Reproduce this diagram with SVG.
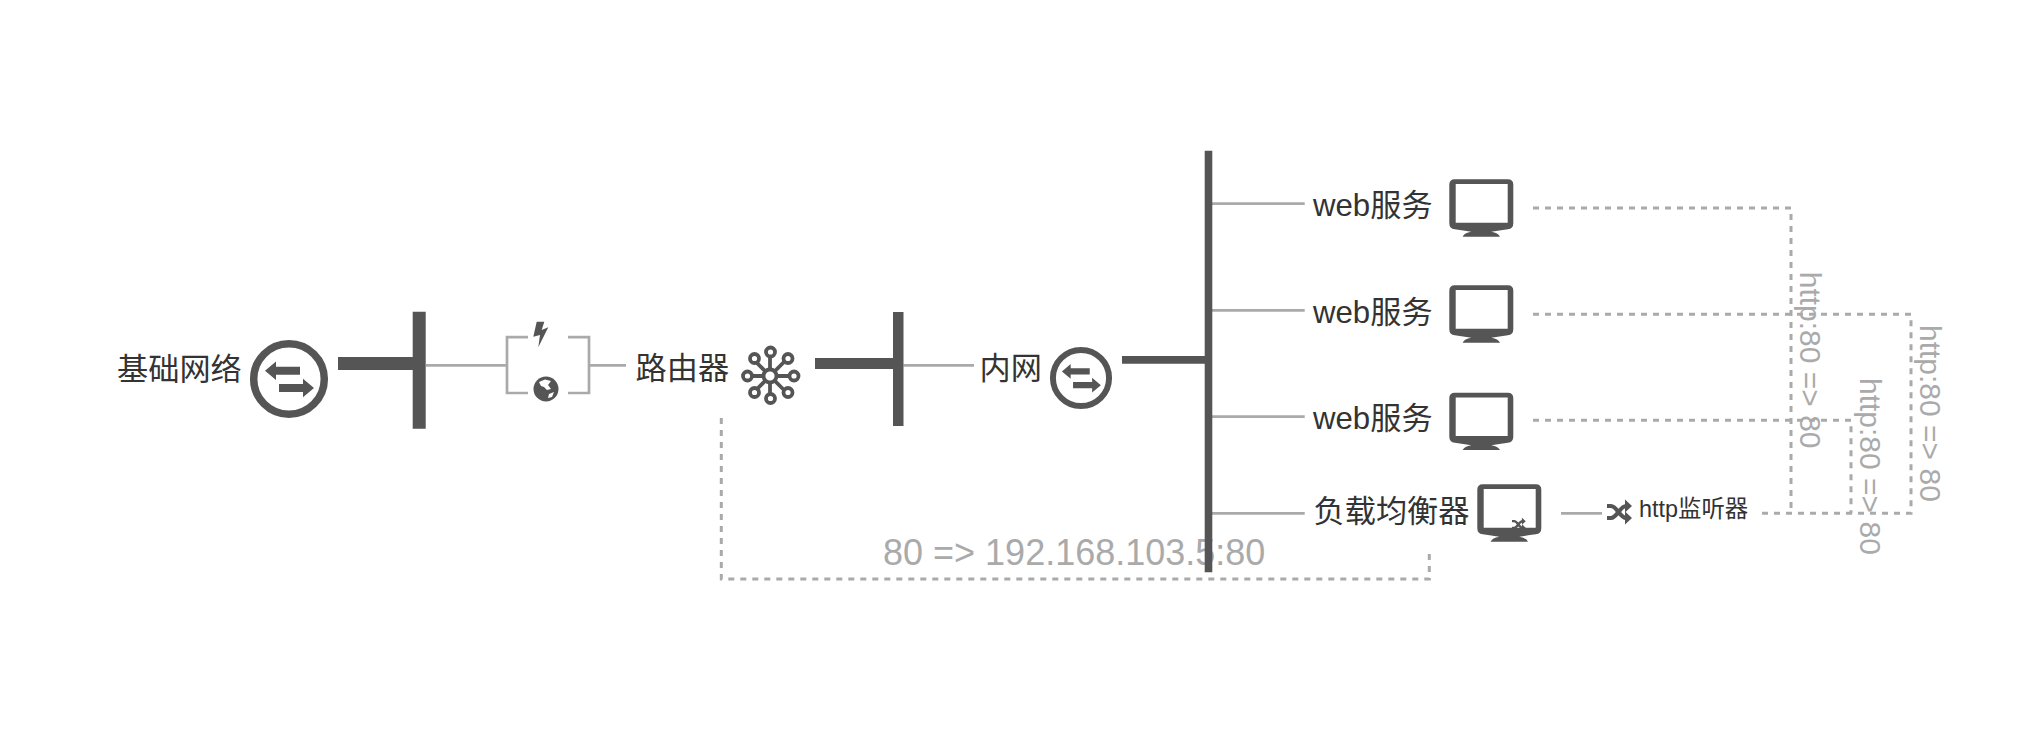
<svg xmlns="http://www.w3.org/2000/svg" xmlns:xlink="http://www.w3.org/1999/xlink" width="2034" height="754" viewBox="0 0 2034 754">
<style>
text{font-family:"Liberation Sans","Noto Sans CJK SC",sans-serif}
.lb{font-size:31.200px;fill:#333}
.gt{font-size:30px;fill:#aaa}
.ln{fill:none;stroke:#aaa;stroke-width:2.700}
.ds{fill:none;stroke:#aaa;stroke-width:3;stroke-dasharray:6 6}
.bar{fill:#555}
</style>
<defs>
<g id="exchange">
<circle r="35.300" fill="none" stroke="#555" stroke-width="7.500"/>
<path fill="#555" d="M-24-8.300-13-17.500V-12.300H11V-4.300H-13V.900Z"/>
<path fill="#555" d="M25 9 14 -.200V5H-10V13H14V18.200Z"/>
</g>
<path id="monitor" fill="#555" fill-rule="evenodd" d="M5.500 0H58.500Q64 0 64 5.500V44Q64 49.500 58.500 50Q50 51 42 52.500Q49 53.500 50.700 57.400H13.300Q15 53.500 22 52.500Q14 51 5.500 50Q0 49.500 0 44V5.500Q0 0 5.500 0ZM6.400 4.700V43.400H58.400V4.700Z"/>
<g id="shuffle" fill="none" stroke="#555" stroke-width="4.200">
<path d="M0 4H4C10 4 13 16 19 16H21"/>
<path d="M0 16H4C10 16 13 4 19 4H21"/>
<path stroke="none" fill="#555" d="M18-2.500 25 4 18 10.500ZM18 9.500 25 16 18 22.500Z"/>
</g>
</defs>
<rect width="2034" height="754" fill="#fff"/>

<g id="connectors">
<path class="ln" d="M426 365.300H507M589 365.300H626M903.500 365.300H974M1212 203.700H1304.700M1212 310.300H1304.700M1212 416.700H1304.700M1212 513.300H1304.700M1561 513.300H1602"/>
<path class="ln" d="M528 337.200H507V393H528M568 337.200H589V393H568"/>
<path class="ds" d="M1533 208H1791V513.300M1533 314.300H1911V513.300H1760.700M1533 420.300H1851V513.300"/>
<path class="ds" d="M721.300 418V579H1429.300V549"/>
</g>

<g id="labels-edge">
<text x="883" y="565" style="font-size:36px;fill:#aaa">80 =&gt; 192.168.103.5:80</text>
<text class="gt" transform="translate(1800 271.700) rotate(90)">http:80 =&gt; 80</text>
<text class="gt" transform="translate(1860 378) rotate(90)">http:80 =&gt; 80</text>
<text class="gt" transform="translate(1920 325) rotate(90)">http:80 =&gt; 80</text>
</g>

<g id="node-base-network">
<text class="lb" x="117" y="380">基础网络</text>
<use xlink:href="#exchange" href="#exchange" x="289" y="379"/>
</g>
<g id="node-bar-1">
<path class="bar" d="M412.700 311.700H425.700V428.700H412.700V370H338V357H412.700Z"/>
</g>
<g id="node-gateway">
<path fill="#555" d="M536.700 321.700H544.300L541.700 330 548.300 327.300 538.300 347.300 540 335 533.300 336.700Z"/>
<circle cx="546" cy="389" r="12.500" fill="#555"/>
<path fill="#fff" d="M539 382 545 379.500 551 381 548 385 551 389 547 390 544 387 541 386ZM549 394 554 392 552 397 548 398Z"/>
</g>
<g id="node-router">
<text class="lb" x="635.500" y="379">路由器</text>
<g fill="#fff" stroke="#555" stroke-width="3.800">
<path d="M770 352V400M746 376H794M753 359 787 393M787 359 753 393"/>
<circle cx="770" cy="376" r="6.500"/>
<circle cx="770.500" cy="352" r="4.500"/><circle cx="770.500" cy="398.500" r="4.500"/>
<circle cx="747.500" cy="376" r="4.500"/><circle cx="794" cy="376" r="4.500"/>
<circle cx="754.500" cy="358.500" r="4.500"/><circle cx="788" cy="358.500" r="4.500"/>
<circle cx="754.500" cy="392.500" r="4.500"/><circle cx="788" cy="392.500" r="4.500"/>
</g>
</g>
<g id="node-bar-2">
<path class="bar" d="M893 312H903.500V426H893V369H815V358H893Z"/>
</g>
<g id="node-intranet">
<text class="lb" x="979.500" y="379">内网</text>
<use xlink:href="#exchange" href="#exchange" transform="translate(1081 378) scale(.795)"/>
</g>
<g id="node-bus">
<path class="bar" d="M1204.700 150.700H1212.300V572.300H1204.700V363.700H1122V356H1204.700Z"/>
</g>
<g id="node-web-1">
<text class="lb" x="1313" y="216">web服务</text>
<use xlink:href="#monitor" href="#monitor" x="1449.300" y="179.300"/>
</g>
<g id="node-web-2">
<text class="lb" x="1313" y="322.500">web服务</text>
<use xlink:href="#monitor" href="#monitor" x="1449.300" y="285.300"/>
</g>
<g id="node-web-3">
<text class="lb" x="1313" y="429">web服务</text>
<use xlink:href="#monitor" href="#monitor" x="1449.300" y="392.700"/>
</g>
<g id="node-lb">
<text class="lb" x="1313.500" y="522">负载均衡器</text>
<use xlink:href="#monitor" href="#monitor" x="1477.300" y="484.300"/>
<g transform="translate(1512 519) scale(.55)"><use xlink:href="#shuffle" href="#shuffle"/></g>
</g>
<g id="node-listener">
<use xlink:href="#shuffle" href="#shuffle" x="1607" y="502"/>
<text x="1639" y="517" style="font-size:23.400px;fill:#333">http监听器</text>
</g>
</svg>
